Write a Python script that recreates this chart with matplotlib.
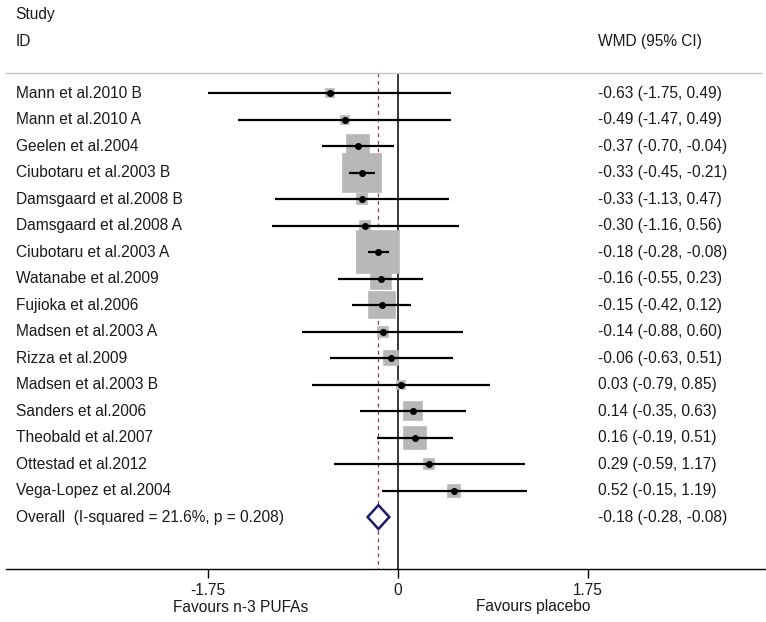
import matplotlib.pyplot as plt
from matplotlib.transforms import blended_transform_factory

plt.rcParams['font.family'] = ['Liberation Sans', 'DejaVu Sans']

# datos del forest plot
estudios = ['Mann et al.2010 B', 'Mann et al.2010 A', 'Geelen et al.2004',
            'Ciubotaru et al.2003 B', 'Damsgaard et al.2008 B', 'Damsgaard et al.2008 A',
            'Ciubotaru et al.2003 A', 'Watanabe et al.2009', 'Fujioka et al.2006',
            'Madsen et al.2003 A', 'Rizza et al.2009', 'Madsen et al.2003 B',
            'Sanders et al.2006', 'Theobald et al.2007', 'Ottestad et al.2012',
            'Vega-Lopez et al.2004']
wmd = [-0.63, -0.49, -0.37, -0.33, -0.33, -0.30, -0.18, -0.16, -0.15, -0.14,
       -0.06, 0.03, 0.14, 0.16, 0.29, 0.52]
ci_low = [-1.75, -1.47, -0.70, -0.45, -1.13, -1.16, -0.28, -0.55, -0.42, -0.88,
          -0.63, -0.79, -0.35, -0.19, -0.59, -0.15]
ci_high = [0.49, 0.49, -0.04, -0.21, 0.47, 0.56, -0.08, 0.23, 0.12, 0.60,
           0.51, 0.85, 0.63, 0.51, 1.17, 1.19]
# pesos (%) estimados a partir del tamaño de los cuadros
pesos = [0.9, 0.9, 7.0, 23.2, 1.8, 1.8, 26.9, 5.8, 10.6, 1.5, 2.8, 1.2, 4.7, 7.0, 1.5, 2.5]

global_wmd = -0.18
global_low = -0.28
global_high = -0.08
etiqueta_global = 'Overall  (I-squared = 21.6%, p = 0.208)'
ticks = [-1.75, 0, 1.75]

color_txt = '#1a1a1a'
fs = 11.2

fig = plt.figure(figsize=(7.66, 6.22), dpi=100)
ax = fig.add_axes([0, 53 / 622, 1, 569 / 622])
ax.set_xlim(-3.665, 3.389)
ax.set_ylim(17.96, -3.51)

for s in ['top', 'right', 'left']:
    ax.spines[s].set_visible(False)
ax.spines['bottom'].set_bounds(-3.61, 3.389)
ax.spines['bottom'].set_linewidth(1.0)
ax.set_yticks([])
ax.set_xticks(ticks)
ax.set_xticklabels(['-1.75', '0', '1.75'])
ax.tick_params(axis='x', length=6.5, width=1, labelsize=fs, pad=3.5, labelcolor=color_txt)

x_texto = -3.52
x_valores = 1.84
y_linea = -0.75
y_fondo = ax.get_ylim()[0]

# cabecera
ax.text(x_texto, -2.98, 'Study', fontsize=fs, va='center', color=color_txt)
ax.text(x_texto, -1.96, 'ID', fontsize=fs, va='center', color=color_txt)
ax.text(x_valores, -1.96, 'WMD (95% CI)', fontsize=fs, va='center', color=color_txt)
ax.hlines(y_linea, -3.62, 3.35, color='#c4c4c4', lw=1)

# linea de cero y linea del efecto global
ax.vlines(0, y_linea, y_fondo, color='black', lw=1.1, zorder=1)
ax.vlines(global_wmd, y_linea, y_fondo, color='#a83245', lw=0.9,
          linestyles=(0, (3, 3)), zorder=1)

for i, nombre in enumerate(estudios):
    lado = 5.75 * pesos[i] ** 0.5
    ax.plot(wmd[i], i, marker='s', markersize=lado, color='#b8b8b8',
            markeredgecolor='#b8b8b8', markeredgewidth=1.2, zorder=2)
    ax.plot([ci_low[i], ci_high[i]], [i, i], color='black', lw=1.6,
            solid_capstyle='butt', zorder=3)
    ax.plot(wmd[i], i, marker='o', markersize=4, color='black', zorder=4)
    ax.text(x_texto, i, nombre, fontsize=fs, va='center', color=color_txt)
    ax.text(x_valores, i, f'{wmd[i]:.2f} ({ci_low[i]:.2f}, {ci_high[i]:.2f})',
            fontsize=fs, va='center', color=color_txt)

# diamante global
fila_g = len(estudios)
ax.fill([global_low, global_wmd, global_high, global_wmd, global_low],
        [fila_g, fila_g - 0.45, fila_g, fila_g + 0.45, fila_g],
        facecolor='white', edgecolor='#1a1a6e', lw=1.8, zorder=5)
ax.text(x_texto, fila_g, etiqueta_global, fontsize=fs, va='center', color=color_txt)
ax.text(x_valores, fila_g, f'{global_wmd:.2f} ({global_low:.2f}, {global_high:.2f})',
        fontsize=fs, va='center', color=color_txt)

trans = blended_transform_factory(ax.transData, fig.transFigure)
ax.text(-1.45, 1 - 607 / 622, 'Favours n-3 PUFAs', fontsize=fs, ha='center',
        va='center', color=color_txt, transform=trans)
ax.text(1.25, 1 - 607 / 622, 'Favours placebo', fontsize=fs, ha='center',
        va='center', color=color_txt, transform=trans)

fig.savefig('out.png', dpi=100)
